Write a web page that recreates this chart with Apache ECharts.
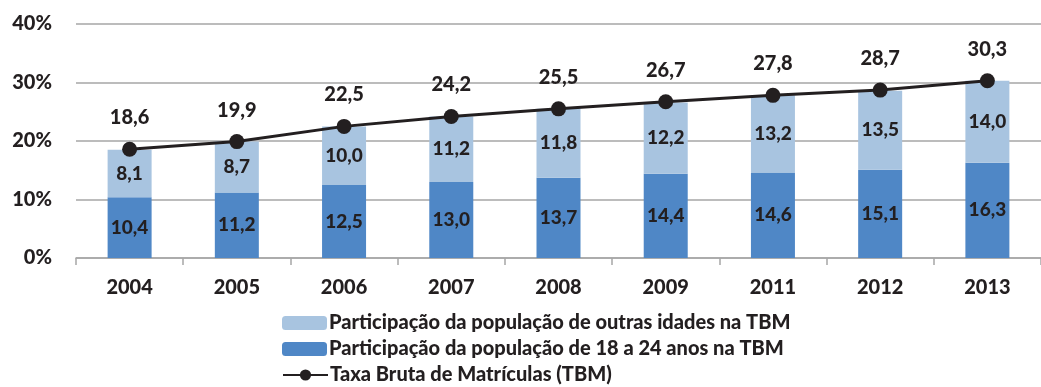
<!DOCTYPE html>
<html>
<head>
<meta charset="utf-8">
<script src="https://cdn.jsdelivr.net/npm/echarts@6/dist/echarts.min.js"></script>
<style>
  html, body { margin: 0; padding: 0; background: #ffffff; }
  #chart { width: 1041px; height: 387px; }
</style>
</head>
<body>
<div id="chart"></div>
<script>
// Anos da série
const years = ['2004', '2005', '2006', '2007', '2008', '2009', '2011', '2012', '2013'];
// Participação da população de 18 a 24 anos na TBM (%)
const share18to24 = [10.4, 11.2, 12.5, 13.0, 13.7, 14.4, 14.6, 15.1, 16.3];
// Participação da população de outras idades na TBM (%)
const shareOtherAges = [8.1, 8.7, 10.0, 11.2, 11.8, 12.2, 13.2, 13.5, 14.0];
// Taxa Bruta de Matrículas (%)
const grossRate = [18.6, 19.9, 22.5, 24.2, 25.5, 26.7, 27.8, 28.7, 30.3];
// Marcas do eixo vertical
const yTicks = [0, 10, 20, 30, 40];

const NAME_OTHER = 'Participação da população de outras idades na TBM';
const NAME_YOUNG = 'Participação da população de 18 a 24 anos na TBM';
const NAME_RATE = 'Taxa Bruta de Matrículas (TBM)';

const FONT = 'Lato';
const WEIGHT = 900;
const INK = '#231f20';
const fmt = v => v.toFixed(1).replace('.', ',');

// One legend row per series, stacked under the plot
const legendRow = (name, top) => ({
  orient: 'horizontal',
  left: 277,
  top: top,
  itemWidth: 45,
  itemHeight: 14,
  selectedMode: false,
  textStyle: { fontFamily: FONT, fontSize: 20, fontWeight: WEIGHT, color: INK, padding: [0, 0, 0, -3] },
  data: [{ name: name }]
});

const chart = echarts.init(document.getElementById('chart'), null, { renderer: 'canvas' });

chart.setOption({
  animation: false,
  textStyle: { fontFamily: FONT, color: INK },
  grid: { left: 76, right: -10, top: 24, bottom: 129, containLabel: false },
  legend: [
    legendRow(NAME_OTHER, 308),
    legendRow(NAME_YOUNG, 334),
    legendRow(NAME_RATE, 360)
  ],
  xAxis: {
    type: 'category',
    data: years,
    axisLine: { lineStyle: { color: '#a6a6a6', width: 1.5 } },
    axisTick: { show: true, length: 7, lineStyle: { color: '#a6a6a6', width: 1.5 } },
    axisLabel: { fontFamily: FONT, fontSize: 20, fontWeight: WEIGHT, color: INK, margin: 20 }
  },
  yAxis: {
    type: 'value',
    min: yTicks[0],
    max: yTicks[yTicks.length - 1],
    interval: 10,
    axisLine: { show: false },
    axisTick: { show: false },
    splitLine: { lineStyle: { color: '#a6a6a6', width: 1.5 } },
    axisLabel: { fontFamily: FONT, fontSize: 20, fontWeight: WEIGHT, color: INK, margin: 24,
      formatter: v => v + '%' }
  },
  series: [
    {
      name: NAME_YOUNG,
      type: 'bar',
      stack: 'tbm',
      barWidth: 44,
      data: share18to24,
      itemStyle: { color: '#4f87c6' },
      label: { show: true, position: 'inside', fontFamily: FONT, fontSize: 19, fontWeight: WEIGHT, color: INK,
        formatter: p => fmt(p.value) },
      z: 2
    },
    {
      name: NAME_OTHER,
      type: 'bar',
      stack: 'tbm',
      barWidth: 44,
      data: shareOtherAges,
      itemStyle: { color: '#a8c4e0' },
      label: { show: true, position: 'inside', fontFamily: FONT, fontSize: 19, fontWeight: WEIGHT, color: INK,
        formatter: p => fmt(p.value) },
      z: 2
    },
    {
      name: NAME_RATE,
      type: 'line',
      data: grossRate,
      symbol: 'circle',
      symbolSize: 15,
      lineStyle: { color: INK, width: 3 },
      itemStyle: { color: INK },
      label: { show: true, position: 'top', distance: 14, fontFamily: FONT, fontSize: 20, fontWeight: WEIGHT, color: INK,
        formatter: p => fmt(p.value) },
      z: 5
    }
  ]
});
</script>
</body>
</html>
